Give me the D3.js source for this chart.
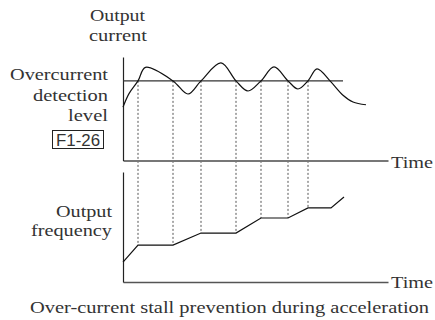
<!DOCTYPE html>
<html>
<head>
<meta charset="utf-8">
<script src="https://cdn.jsdelivr.net/npm/d3@7"></script>
<style>
  body { margin: 0; background: #fff; }
  text { font-family: "Liberation Serif", "Times New Roman", serif; fill: #333; }
</style>
</head>
<body>
<script>
// donnees (temps en unites arbitraires)
var curTime  = [0, 1.2, 3, 4.5, 10, 13, 15.6, 19.6, 22.6, 25, 27.6, 30.2, 33, 35, 37, 38.8, 41.4, 44, 46, 48.6];
var curValue = [0.67, 0.84, 1.0, 1.17, 1.0, 0.835, 1.0, 1.225, 1.0, 0.873, 1.0, 1.175, 1.0, 0.898, 1.0, 1.15, 1.0, 0.82, 0.735, 0.70];

var freqTime  = [0, 3, 10, 15.6, 22.6, 27.6, 33, 37, 41.6, 44.2];
var freqValue = [0.18, 0.336, 0.336, 0.445, 0.445, 0.582, 0.582, 0.673, 0.673, 0.773];

var crossTimes = [3, 10, 15.6, 22.6, 27.6, 33, 37];
var level = 1.0, levelEnd = 44;
var levelCode = "F1-26";

var width = 435, height = 320;

var svg = d3.select("body").append("svg")
    .attr("width", width)
    .attr("height", height);

// ECHELLES
var x = d3.scaleLinear().domain([0, 53]).range([123, 388]);
var yCur = d3.scaleLinear().domain([0, 1.3]).range([160.5, 57]);
var yFreq = d3.scaleLinear().domain([0, 1]).range([282, 172]);

var curData = curTime.map(function(t, i) { return [t, curValue[i]]; });
var freqData = freqTime.map(function(t, i) { return [t, freqValue[i]]; });

// frequence a un instant donne (lecture sur la courbe)
var freqAt = function(t) {
  for (var i = 0; i < freqData.length - 1; i++) {
    if (t >= freqData[i][0] && t <= freqData[i + 1][0]) {
      var k = (t - freqData[i][0]) / (freqData[i + 1][0] - freqData[i][0]);
      return freqData[i][1] + k * (freqData[i + 1][1] - freqData[i][1]);
    }
  }
  return freqData[freqData.length - 1][1];
};

// lignes pointillees
svg.append("g").selectAll("line")
    .data(crossTimes)
    .enter().append("line")
    .attr("x1", function(d) { return x(d); })
    .attr("x2", function(d) { return x(d); })
    .attr("y1", yCur(level))
    .attr("y2", function(d) { return yFreq(freqAt(d)); })
    .attr("stroke", "#555")
    .attr("stroke-width", 1)
    .attr("stroke-dasharray", "2,2");

// AXES
function noTicks(ax) { return ax.tickValues([]).tickSizeOuter(0); }

svg.append("g")
    .attr("transform", "translate(0," + yCur(0) + ")")
    .call(noTicks(d3.axisBottom(x)))
    .select(".domain").attr("stroke", "#777").attr("stroke-width", 2);

svg.append("g")
    .attr("transform", "translate(" + x(0) + ",0)")
    .call(noTicks(d3.axisLeft(yCur)))
    .select(".domain").attr("stroke", "#222").attr("stroke-width", 1.2);

svg.append("g")
    .attr("transform", "translate(0," + yFreq(0) + ")")
    .call(noTicks(d3.axisBottom(x)))
    .select(".domain").attr("stroke", "#555").attr("stroke-width", 1.5);

svg.append("g")
    .attr("transform", "translate(" + x(0) + ",0)")
    .call(noTicks(d3.axisLeft(yFreq)))
    .select(".domain").attr("stroke", "#222").attr("stroke-width", 1.2);

// niveau de detection
svg.append("line")
    .attr("x1", x(0)).attr("x2", x(levelEnd))
    .attr("y1", yCur(level)).attr("y2", yCur(level))
    .attr("stroke", "#333").attr("stroke-width", 1.2);

// COURBES
var lineCur = d3.line()
    .x(function(d) { return x(d[0]); })
    .y(function(d) { return yCur(d[1]); })
    .curve(d3.curveCatmullRom.alpha(0.5));

var lineFreq = d3.line()
    .x(function(d) { return x(d[0]); })
    .y(function(d) { return yFreq(d[1]); });

svg.append("path").datum(curData)
    .attr("fill", "none").attr("stroke", "#111").attr("stroke-width", 1.2)
    .attr("d", lineCur);

svg.append("path").datum(freqData)
    .attr("fill", "none").attr("stroke", "#111").attr("stroke-width", 1.2)
    .attr("d", lineFreq);

// TEXTES
function label(txt, px, py, anchor, len) {
  svg.append("text")
      .attr("x", px).attr("y", py)
      .attr("text-anchor", anchor)
      .attr("font-size", 16)
      .attr("textLength", len)
      .attr("lengthAdjust", "spacingAndGlyphs")
      .text(txt);
}

label("Output", 117.5, 21, "middle", 55);
label("current", 118, 41, "middle", 58);
label("Overcurrent", 108, 80, "end", 98);
label("detection", 108, 101, "end", 75);
label("level", 108, 121, "end", 40);
label("Output", 112, 217, "end", 56);
label("frequency", 112, 236, "end", 81);
label("Time", 391, 168, "start", 42);
label("Time", 391, 288, "start", 42);
label("Over-current stall prevention during acceleration", 30, 313, "start", 399);

svg.append("rect")
    .attr("x", 52.5).attr("y", 130.5)
    .attr("width", 51).attr("height", 18)
    .attr("fill", "none").attr("stroke", "#222").attr("stroke-width", 1);

svg.append("text")
    .attr("x", 78).attr("y", 145.5)
    .attr("text-anchor", "middle")
    .style("font-family", "'Liberation Sans', Arial, sans-serif")
    .attr("font-size", 16)
    .attr("textLength", 44)
    .attr("lengthAdjust", "spacingAndGlyphs")
    .text(levelCode);
</script>
</body>
</html>
